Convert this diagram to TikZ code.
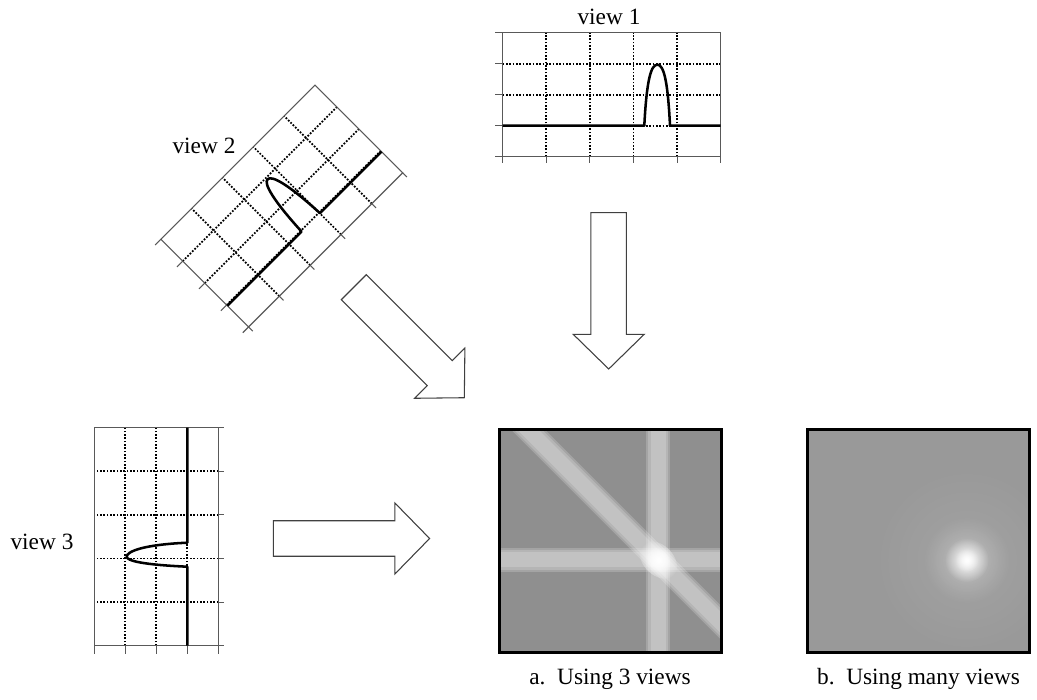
\documentclass[tikz,border=0pt]{standalone}
\usepackage{fontspec}
\setmainfont{Liberation Serif}
\usetikzlibrary{fadings}

\definecolor{framegray}{gray}{0.35}
\definecolor{imgagray}{gray}{0.56}
\definecolor{imgbgray}{gray}{0.6}

\tikzset{
  axisline/.style={framegray, line width=0.8pt},
  gridline/.style={black, line width=1.3pt, dash pattern=on 1.3pt off 1.2pt},
  signal/.style={black, line width=1.9pt, line join=round},
  bigarrow/.style={draw=black!75, fill=white, line width=0.8pt},
  viewlabel/.style={font=\fontsize{17.5}{20}\selectfont, anchor=base},
  imgframe/.style={draw=black, line width=2.25pt},
  stripe/.style={white, opacity=0.19},
  blockarrow/.pic={
    \draw[bigarrow] (0,17.75) -- (121.6,17.75) -- (121.6,35.5) -- (156.3,0)
      -- (121.6,-35.5) -- (121.6,-17.75) -- (0,-17.75) -- cycle;
  }
}

\tikzfading[name=softspot, inner color=transparent!0, outer color=transparent!100]

% grid of one view, in its own coordinates
\newcommand{\viewgrid}{%
  \foreach \gx in {1,...,4} \draw[gridline] (\gx*43.6,0) -- (\gx*43.6,124);
  \foreach \gy in {1,2,3} \draw[gridline] (0,\gy*31) -- (218,\gy*31);
  \draw[axisline] (0,0) rectangle (218,124);
  \foreach \gx in {0,...,5} \draw[axisline] (\gx*43.6,0) -- (\gx*43.6,-6);
  \foreach \gy in {0,...,4} \draw[axisline] (0,\gy*31) -- (-8,\gy*31);
}

\begin{document}
\begin{tikzpicture}[x=0.75pt,y=0.75pt]
  \useasboundingbox (0,0) rectangle (1037,699);

  % view 1
  \begin{scope}[shift={(502.7,542.3)}]
    \viewgrid
    \draw[signal] (0,31) -- (141.6,31) .. controls (144,78) and (148.5,92) .. (154.6,92)
      .. controls (160.7,92) and (165,78) .. (167.3,31) -- (218,31);
  \end{scope}
  \node[viewlabel] (viewone) at (609,674) {view 1};

  % view 2
  \begin{scope}[shift={(248.5,372)}, rotate=45]
    \viewgrid
    \draw[signal] (0,30) -- (105,30) .. controls (107,72) and (112,91) .. (118,91)
      .. controls (124,91) and (129,72) .. (131,30) -- (218,30);
  \end{scope}
  \node[viewlabel] (viewtwo) at (204,545.7) {view 2};

  % view 3
  \begin{scope}[shift={(218.3,53.3)}, rotate=90]
    \viewgrid
    \draw[signal] (0,31) -- (79,31) .. controls (81,76) and (85,91.6) .. (89,91.6)
      .. controls (94,91.6) and (101,76) .. (103,31) -- (218,31);
  \end{scope}
  \node[viewlabel] (viewthree) at (42,149) {view 3};

  % arrows
  \pic[rotate=-90] at (608.7,486.3) {blockarrow};
  \pic[rotate=-45] at (353.8,411.8) {blockarrow};
  \pic at (273.3,160.5) {blockarrow};

  % image a
  \begin{scope}
    \clip (499,47) rectangle (721,269);
    \fill[imgagray] (499,47) rectangle (721,269);
    \foreach \w in {12,10,7.5} {
      \fill[stripe] (658.3-\w,47) rectangle (658.3+\w,269);
      \fill[stripe] (499,139-\w) rectangle (721,139+\w);
      \fill[stripe, rotate around={-45:(658.3,139)}] (358.3,139-\w) rectangle (958.3,139+\w);
    }
    \fill[white, path fading=softspot, rotate around={-45:(658.3,139)}] (658.3,139) ellipse (22 and 15);
    \fill[white, opacity=0.6, path fading=softspot, rotate around={-45:(658.3,139)}] (658.3,139) ellipse (14 and 10);
  \end{scope}
  \draw[imgframe] (499,47) rectangle (721,269);
  \node[viewlabel] (capa) at (610,15) {a.\ \ Using 3 views};

  % image b
  \begin{scope}
    \clip (807.5,47) rectangle (1029.5,269);
    \fill[imgbgray] (807.5,47) rectangle (1029.5,269);
    \fill[white, opacity=0.1, path fading=softspot] (966.7,139) circle (95);
    \fill[white, opacity=0.3, path fading=softspot] (966.7,139) circle (42);
    \fill[white, path fading=softspot] (966.7,139) circle (22);
    \fill[white, opacity=0.7, path fading=softspot] (966.7,139) circle (12);
  \end{scope}
  \draw[imgframe] (807.5,47) rectangle (1029.5,269);
  \node[viewlabel] (capb) at (918.5,15) {b.\ \ Using many views};
\end{tikzpicture}
\end{document}
